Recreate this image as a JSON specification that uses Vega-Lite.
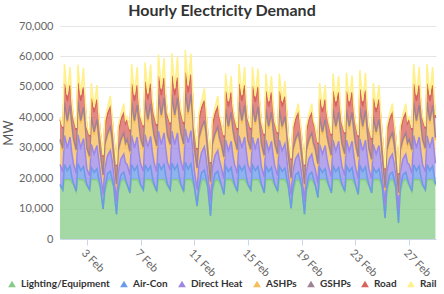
{
  "$schema": "https://vega.github.io/schema/vega-lite/v6.json",
  "width": 376,
  "height": 213,
  "padding": {"left": 2, "top": 3, "right": 8, "bottom": 4},
  "config": {"view": {"stroke": null}, "font": "Lato"},
  "title": {"text": "Hourly Electricity Demand", "fontSize": 16, "fontWeight": "bold", "color": "#333333", "font": "Lato", "offset": 1, "dx": -26},
  "datasets": {
    "series": [
      {"k": "L", "name": "Lighting/Equipment", "i": 0},
      {"k": "A", "name": "Air-Con", "i": 1},
      {"k": "D", "name": "Direct Heat", "i": 2},
      {"k": "H", "name": "ASHPs", "i": 3},
      {"k": "G", "name": "GSHPs", "i": 4},
      {"k": "R", "name": "Road", "i": 5},
      {"k": "W", "name": "Rail", "i": 6}
    ],
    "demand": [
      {"t":"2017-02-01T00:00","L":17500,"A":500,"D":6500,"H":7500,"G":800,"R":6500,"W":800},
      {"t":"2017-02-01T05:00","L":16000,"A":200,"D":5800,"H":7000,"G":800,"R":6500,"W":700},
      {"t":"2017-02-01T08:00","L":19500,"A":5000,"D":9500,"H":10000,"G":1000,"R":6000,"W":6500},
      {"t":"2017-02-01T13:00","L":19500,"A":3000,"D":7500,"H":8000,"G":900,"R":6500,"W":2000},
      {"t":"2017-02-01T18:00","L":19500,"A":4500,"D":9500,"H":9500,"G":1000,"R":6500,"W":6000},
      {"t":"2017-02-01T21:00","L":18500,"A":2000,"D":8000,"H":8500,"G":900,"R":6500,"W":1500},
      {"t":"2017-02-02T00:00","L":17800,"A":500,"D":6500,"H":7500,"G":800,"R":6500,"W":800},
      {"t":"2017-02-02T05:00","L":15500,"A":200,"D":5800,"H":7000,"G":800,"R":6500,"W":700},
      {"t":"2017-02-02T08:00","L":19800,"A":5000,"D":9500,"H":10000,"G":1000,"R":6000,"W":6000},
      {"t":"2017-02-02T13:00","L":19500,"A":3000,"D":7500,"H":8000,"G":900,"R":6500,"W":2000},
      {"t":"2017-02-02T18:00","L":19300,"A":4500,"D":9200,"H":9300,"G":1000,"R":6500,"W":6500},
      {"t":"2017-02-02T21:00","L":18500,"A":2000,"D":8000,"H":8500,"G":900,"R":6500,"W":1500},
      {"t":"2017-02-03T00:00","L":17500,"A":400,"D":5200,"H":6000,"G":800,"R":6500,"W":640},
      {"t":"2017-02-03T05:00","L":16000,"A":160,"D":4640,"H":5600,"G":800,"R":6500,"W":560},
      {"t":"2017-02-03T08:00","L":19500,"A":4000,"D":7600,"H":8000,"G":1000,"R":6000,"W":5200},
      {"t":"2017-02-03T13:00","L":19500,"A":2400,"D":6000,"H":6400,"G":900,"R":6500,"W":1600},
      {"t":"2017-02-03T18:00","L":19500,"A":3600,"D":7600,"H":7600,"G":1000,"R":6500,"W":4800},
      {"t":"2017-02-03T21:00","L":18500,"A":1600,"D":6400,"H":6800,"G":900,"R":6500,"W":1200},
      {"t":"2017-02-04T00:00","L":17000,"A":320,"D":4800,"H":5600,"G":800,"R":6500,"W":560},
      {"t":"2017-02-04T05:00","L":9700,"A":160,"D":4800,"H":5600,"G":800,"R":6000,"W":480},
      {"t":"2017-02-04T08:00","L":15000,"A":1600,"D":6400,"H":7200,"G":900,"R":6000,"W":2000},
      {"t":"2017-02-04T13:00","L":19000,"A":2400,"D":6000,"H":6400,"G":900,"R":6500,"W":2000},
      {"t":"2017-02-04T18:00","L":19500,"A":2800,"D":6800,"H":6800,"G":1000,"R":6500,"W":3600},
      {"t":"2017-02-04T21:00","L":18500,"A":1440,"D":6000,"H":6400,"G":900,"R":6500,"W":1200},
      {"t":"2017-02-05T00:00","L":17000,"A":280,"D":4200,"H":4900,"G":800,"R":6500,"W":490},
      {"t":"2017-02-05T05:00","L":8000,"A":140,"D":4200,"H":4900,"G":800,"R":6000,"W":420},
      {"t":"2017-02-05T08:00","L":15000,"A":1400,"D":5600,"H":6300,"G":900,"R":6000,"W":1750},
      {"t":"2017-02-05T13:00","L":19000,"A":2100,"D":5250,"H":5600,"G":900,"R":6500,"W":1750},
      {"t":"2017-02-05T18:00","L":19500,"A":2450,"D":5950,"H":5950,"G":1000,"R":6500,"W":3150},
      {"t":"2017-02-05T21:00","L":18500,"A":1260,"D":5250,"H":5600,"G":900,"R":6500,"W":1050},
      {"t":"2017-02-06T00:00","L":17500,"A":500,"D":6500,"H":7500,"G":800,"R":6500,"W":800},
      {"t":"2017-02-06T05:00","L":15000,"A":200,"D":5800,"H":7000,"G":800,"R":6500,"W":700},
      {"t":"2017-02-06T08:00","L":19500,"A":5000,"D":9500,"H":10000,"G":1000,"R":6000,"W":6500},
      {"t":"2017-02-06T13:00","L":19500,"A":3000,"D":7500,"H":8000,"G":900,"R":6500,"W":2000},
      {"t":"2017-02-06T18:00","L":19500,"A":4500,"D":9500,"H":9500,"G":1000,"R":6500,"W":6000},
      {"t":"2017-02-06T21:00","L":18500,"A":2000,"D":8000,"H":8500,"G":900,"R":6500,"W":1500},
      {"t":"2017-02-07T00:00","L":17500,"A":500,"D":6700,"H":7700,"G":800,"R":6500,"W":800},
      {"t":"2017-02-07T05:00","L":16000,"A":200,"D":6000,"H":7200,"G":800,"R":6500,"W":700},
      {"t":"2017-02-07T08:00","L":19500,"A":5000,"D":9800,"H":10300,"G":1000,"R":6000,"W":6500},
      {"t":"2017-02-07T13:00","L":19500,"A":3000,"D":7700,"H":8200,"G":900,"R":6500,"W":2000},
      {"t":"2017-02-07T18:00","L":19500,"A":4500,"D":9700,"H":9800,"G":1000,"R":6500,"W":6300},
      {"t":"2017-02-07T21:00","L":18500,"A":2000,"D":8200,"H":8700,"G":900,"R":6500,"W":1500},
      {"t":"2017-02-08T00:00","L":17500,"A":550,"D":7150,"H":8250,"G":800,"R":6500,"W":880},
      {"t":"2017-02-08T05:00","L":15500,"A":220,"D":6380,"H":7700,"G":800,"R":6500,"W":770},
      {"t":"2017-02-08T08:00","L":19500,"A":5500,"D":10450,"H":11000,"G":1000,"R":6000,"W":7150},
      {"t":"2017-02-08T13:00","L":19500,"A":3300,"D":8250,"H":8800,"G":900,"R":6500,"W":2200},
      {"t":"2017-02-08T18:00","L":19500,"A":4950,"D":10450,"H":10450,"G":1000,"R":6500,"W":6600},
      {"t":"2017-02-08T21:00","L":18500,"A":2200,"D":8800,"H":9350,"G":900,"R":6500,"W":1650},
      {"t":"2017-02-09T00:00","L":17500,"A":550,"D":7150,"H":8250,"G":800,"R":6500,"W":880},
      {"t":"2017-02-09T05:00","L":16000,"A":220,"D":6380,"H":7700,"G":800,"R":6500,"W":770},
      {"t":"2017-02-09T08:00","L":19500,"A":5500,"D":10450,"H":11000,"G":1000,"R":6200,"W":7400},
      {"t":"2017-02-09T13:00","L":19500,"A":3300,"D":8250,"H":8800,"G":900,"R":6500,"W":2200},
      {"t":"2017-02-09T18:00","L":19500,"A":4950,"D":10450,"H":10450,"G":1000,"R":6700,"W":6800},
      {"t":"2017-02-09T21:00","L":18500,"A":2200,"D":8800,"H":9350,"G":900,"R":6500,"W":1650},
      {"t":"2017-02-10T00:00","L":17500,"A":575,"D":7475,"H":8625,"G":800,"R":6500,"W":920},
      {"t":"2017-02-10T05:00","L":15500,"A":230,"D":6670,"H":8050,"G":800,"R":6500,"W":805},
      {"t":"2017-02-10T08:00","L":19500,"A":5750,"D":10925,"H":11500,"G":1000,"R":6000,"W":7475},
      {"t":"2017-02-10T13:00","L":19500,"A":3450,"D":8625,"H":9200,"G":900,"R":6500,"W":2300},
      {"t":"2017-02-10T18:00","L":19500,"A":5175,"D":10925,"H":10925,"G":1000,"R":6500,"W":6900},
      {"t":"2017-02-10T21:00","L":18500,"A":2300,"D":9200,"H":9775,"G":900,"R":6500,"W":1725},
      {"t":"2017-02-11T00:00","L":17000,"A":360,"D":5400,"H":6300,"G":800,"R":6500,"W":630},
      {"t":"2017-02-11T05:00","L":10700,"A":180,"D":5400,"H":6300,"G":800,"R":6000,"W":540},
      {"t":"2017-02-11T08:00","L":15000,"A":1800,"D":7200,"H":8100,"G":900,"R":6000,"W":2250},
      {"t":"2017-02-11T13:00","L":19000,"A":2700,"D":6750,"H":7200,"G":900,"R":6500,"W":2250},
      {"t":"2017-02-11T18:00","L":19500,"A":3150,"D":7650,"H":7650,"G":1000,"R":6500,"W":4050},
      {"t":"2017-02-11T21:00","L":18500,"A":1620,"D":6750,"H":7200,"G":900,"R":6500,"W":1350},
      {"t":"2017-02-12T00:00","L":17000,"A":320,"D":4800,"H":5600,"G":800,"R":6500,"W":560},
      {"t":"2017-02-12T05:00","L":7500,"A":160,"D":4800,"H":5600,"G":800,"R":6000,"W":480},
      {"t":"2017-02-12T08:00","L":15000,"A":1600,"D":6400,"H":7200,"G":900,"R":6000,"W":2000},
      {"t":"2017-02-12T13:00","L":19000,"A":2400,"D":6000,"H":6400,"G":900,"R":6500,"W":2000},
      {"t":"2017-02-12T18:00","L":19500,"A":2800,"D":6800,"H":6800,"G":1000,"R":6500,"W":3600},
      {"t":"2017-02-12T21:00","L":18500,"A":1440,"D":6000,"H":6400,"G":900,"R":6500,"W":1200},
      {"t":"2017-02-13T00:00","L":17500,"A":450,"D":5850,"H":6750,"G":800,"R":6500,"W":720},
      {"t":"2017-02-13T05:00","L":14500,"A":180,"D":5220,"H":6300,"G":800,"R":6500,"W":630},
      {"t":"2017-02-13T08:00","L":19500,"A":4500,"D":8550,"H":9000,"G":1000,"R":6000,"W":5850},
      {"t":"2017-02-13T13:00","L":19500,"A":2700,"D":6750,"H":7200,"G":900,"R":6500,"W":1800},
      {"t":"2017-02-13T18:00","L":19500,"A":4050,"D":8550,"H":8550,"G":1000,"R":6500,"W":5400},
      {"t":"2017-02-13T21:00","L":18500,"A":1800,"D":7200,"H":7650,"G":900,"R":6500,"W":1350},
      {"t":"2017-02-14T00:00","L":17500,"A":500,"D":6500,"H":7500,"G":800,"R":6500,"W":800},
      {"t":"2017-02-14T05:00","L":15500,"A":200,"D":5800,"H":7000,"G":800,"R":6500,"W":700},
      {"t":"2017-02-14T08:00","L":19500,"A":5000,"D":9500,"H":10000,"G":1000,"R":6000,"W":6500},
      {"t":"2017-02-14T13:00","L":19500,"A":3000,"D":7500,"H":8000,"G":900,"R":6500,"W":2000},
      {"t":"2017-02-14T18:00","L":19500,"A":4500,"D":9500,"H":9500,"G":1000,"R":6500,"W":6000},
      {"t":"2017-02-14T21:00","L":18500,"A":2000,"D":8000,"H":8500,"G":900,"R":6500,"W":1500},
      {"t":"2017-02-15T00:00","L":17500,"A":500,"D":6300,"H":7300,"G":800,"R":6500,"W":800},
      {"t":"2017-02-15T05:00","L":16000,"A":200,"D":5600,"H":6800,"G":800,"R":6500,"W":700},
      {"t":"2017-02-15T08:00","L":19500,"A":4800,"D":9200,"H":9700,"G":1000,"R":6000,"W":6300},
      {"t":"2017-02-15T13:00","L":19500,"A":3000,"D":7300,"H":7800,"G":900,"R":6500,"W":2000},
      {"t":"2017-02-15T18:00","L":19500,"A":4400,"D":9300,"H":9300,"G":1000,"R":6500,"W":6000},
      {"t":"2017-02-15T21:00","L":18500,"A":2000,"D":7800,"H":8300,"G":900,"R":6500,"W":1500},
      {"t":"2017-02-16T00:00","L":17500,"A":450,"D":5850,"H":6750,"G":800,"R":6500,"W":720},
      {"t":"2017-02-16T05:00","L":15000,"A":180,"D":5220,"H":6300,"G":800,"R":6500,"W":630},
      {"t":"2017-02-16T08:00","L":19500,"A":4500,"D":8550,"H":9000,"G":1000,"R":6000,"W":5850},
      {"t":"2017-02-16T13:00","L":19500,"A":2700,"D":6750,"H":7200,"G":900,"R":6500,"W":1800},
      {"t":"2017-02-16T18:00","L":19500,"A":4050,"D":8550,"H":8550,"G":1000,"R":6500,"W":5400},
      {"t":"2017-02-16T21:00","L":18500,"A":1800,"D":7200,"H":7650,"G":900,"R":6500,"W":1350},
      {"t":"2017-02-17T00:00","L":17500,"A":450,"D":5850,"H":6750,"G":800,"R":6500,"W":720},
      {"t":"2017-02-17T05:00","L":15500,"A":180,"D":5220,"H":6300,"G":800,"R":6500,"W":630},
      {"t":"2017-02-17T08:00","L":19500,"A":4500,"D":8550,"H":9000,"G":1000,"R":6000,"W":5850},
      {"t":"2017-02-17T13:00","L":19500,"A":2700,"D":6750,"H":7200,"G":900,"R":6500,"W":1800},
      {"t":"2017-02-17T18:00","L":19500,"A":3800,"D":8000,"H":8000,"G":1000,"R":6500,"W":5000},
      {"t":"2017-02-17T21:00","L":18500,"A":1700,"D":7000,"H":7400,"G":900,"R":6500,"W":1300},
      {"t":"2017-02-18T00:00","L":17000,"A":280,"D":4200,"H":4900,"G":800,"R":6500,"W":490},
      {"t":"2017-02-18T05:00","L":10000,"A":140,"D":4200,"H":4900,"G":800,"R":6000,"W":420},
      {"t":"2017-02-18T08:00","L":15000,"A":1400,"D":5600,"H":6300,"G":900,"R":6000,"W":1750},
      {"t":"2017-02-18T13:00","L":19000,"A":2100,"D":5250,"H":5600,"G":900,"R":6500,"W":1750},
      {"t":"2017-02-18T18:00","L":19500,"A":2450,"D":5950,"H":5950,"G":1000,"R":6500,"W":3150},
      {"t":"2017-02-18T21:00","L":18500,"A":1260,"D":5250,"H":5600,"G":900,"R":6500,"W":1050},
      {"t":"2017-02-19T00:00","L":17000,"A":280,"D":4200,"H":4900,"G":800,"R":6500,"W":490},
      {"t":"2017-02-19T05:00","L":8000,"A":140,"D":4200,"H":4900,"G":800,"R":6000,"W":420},
      {"t":"2017-02-19T08:00","L":15000,"A":1400,"D":5600,"H":6300,"G":900,"R":6000,"W":1750},
      {"t":"2017-02-19T13:00","L":19000,"A":2100,"D":5250,"H":5600,"G":900,"R":6500,"W":1750},
      {"t":"2017-02-19T18:00","L":19500,"A":2450,"D":5950,"H":5950,"G":1000,"R":6500,"W":3150},
      {"t":"2017-02-19T21:00","L":18500,"A":1260,"D":5250,"H":5600,"G":900,"R":6500,"W":1050},
      {"t":"2017-02-20T00:00","L":17500,"A":400,"D":5200,"H":6000,"G":800,"R":6500,"W":640},
      {"t":"2017-02-20T05:00","L":13500,"A":160,"D":4640,"H":5600,"G":800,"R":6500,"W":560},
      {"t":"2017-02-20T08:00","L":19500,"A":4000,"D":7600,"H":8000,"G":1000,"R":6000,"W":5200},
      {"t":"2017-02-20T13:00","L":19500,"A":2400,"D":6000,"H":6400,"G":900,"R":6500,"W":1600},
      {"t":"2017-02-20T18:00","L":19500,"A":3600,"D":7600,"H":7600,"G":1000,"R":6500,"W":4800},
      {"t":"2017-02-20T21:00","L":18500,"A":1600,"D":6400,"H":6800,"G":900,"R":6500,"W":1200},
      {"t":"2017-02-21T00:00","L":17500,"A":450,"D":5850,"H":6750,"G":800,"R":6500,"W":720},
      {"t":"2017-02-21T05:00","L":15000,"A":180,"D":5220,"H":6300,"G":800,"R":6500,"W":630},
      {"t":"2017-02-21T08:00","L":19500,"A":4500,"D":8550,"H":9000,"G":1000,"R":6000,"W":5850},
      {"t":"2017-02-21T13:00","L":19500,"A":2700,"D":6750,"H":7200,"G":900,"R":6500,"W":1800},
      {"t":"2017-02-21T18:00","L":19500,"A":4050,"D":8550,"H":8550,"G":1000,"R":6500,"W":5400},
      {"t":"2017-02-21T21:00","L":18500,"A":1800,"D":7200,"H":7650,"G":900,"R":6500,"W":1350},
      {"t":"2017-02-22T00:00","L":17500,"A":450,"D":5850,"H":6750,"G":800,"R":6500,"W":720},
      {"t":"2017-02-22T05:00","L":15500,"A":180,"D":5220,"H":6300,"G":800,"R":6500,"W":630},
      {"t":"2017-02-22T08:00","L":19500,"A":4500,"D":8550,"H":9000,"G":1000,"R":6000,"W":6100},
      {"t":"2017-02-22T13:00","L":19500,"A":2700,"D":6750,"H":7200,"G":900,"R":6500,"W":1800},
      {"t":"2017-02-22T18:00","L":19500,"A":4050,"D":8550,"H":8550,"G":1000,"R":6500,"W":5600},
      {"t":"2017-02-22T21:00","L":18500,"A":1800,"D":7200,"H":7650,"G":900,"R":6500,"W":1350},
      {"t":"2017-02-23T00:00","L":17500,"A":450,"D":5850,"H":6750,"G":800,"R":6500,"W":720},
      {"t":"2017-02-23T05:00","L":14500,"A":180,"D":5220,"H":6300,"G":800,"R":6500,"W":630},
      {"t":"2017-02-23T08:00","L":19500,"A":4600,"D":8800,"H":9300,"G":1000,"R":6000,"W":6200},
      {"t":"2017-02-23T13:00","L":19500,"A":2700,"D":6750,"H":7200,"G":900,"R":6500,"W":1800},
      {"t":"2017-02-23T18:00","L":19500,"A":4200,"D":8800,"H":8800,"G":1000,"R":6500,"W":5800},
      {"t":"2017-02-23T21:00","L":18500,"A":1800,"D":7200,"H":7650,"G":900,"R":6500,"W":1350},
      {"t":"2017-02-24T00:00","L":17500,"A":400,"D":5200,"H":6000,"G":800,"R":6500,"W":640},
      {"t":"2017-02-24T05:00","L":15000,"A":160,"D":4640,"H":5600,"G":800,"R":6500,"W":560},
      {"t":"2017-02-24T08:00","L":19500,"A":4000,"D":7600,"H":8000,"G":1000,"R":6000,"W":5200},
      {"t":"2017-02-24T13:00","L":19500,"A":2400,"D":6000,"H":6400,"G":900,"R":6500,"W":1600},
      {"t":"2017-02-24T18:00","L":19500,"A":3600,"D":7600,"H":7600,"G":1000,"R":6500,"W":4800},
      {"t":"2017-02-24T21:00","L":18500,"A":1600,"D":6400,"H":6800,"G":900,"R":6500,"W":1200},
      {"t":"2017-02-25T00:00","L":17000,"A":280,"D":4200,"H":4900,"G":800,"R":6500,"W":490},
      {"t":"2017-02-25T05:00","L":6800,"A":140,"D":4200,"H":4900,"G":800,"R":6000,"W":420},
      {"t":"2017-02-25T08:00","L":15000,"A":1400,"D":5600,"H":6300,"G":900,"R":6000,"W":1750},
      {"t":"2017-02-25T13:00","L":19000,"A":2100,"D":5250,"H":5600,"G":900,"R":6500,"W":1750},
      {"t":"2017-02-25T18:00","L":19500,"A":2450,"D":5950,"H":5950,"G":1000,"R":6500,"W":3150},
      {"t":"2017-02-25T21:00","L":18500,"A":1260,"D":5250,"H":5600,"G":900,"R":6500,"W":1050},
      {"t":"2017-02-26T00:00","L":17000,"A":280,"D":4200,"H":4900,"G":800,"R":6500,"W":490},
      {"t":"2017-02-26T05:00","L":5200,"A":140,"D":4200,"H":4900,"G":800,"R":6000,"W":420},
      {"t":"2017-02-26T08:00","L":15000,"A":1400,"D":5600,"H":6300,"G":900,"R":6000,"W":1750},
      {"t":"2017-02-26T13:00","L":19000,"A":2100,"D":5250,"H":5600,"G":900,"R":6500,"W":1750},
      {"t":"2017-02-26T18:00","L":19500,"A":2450,"D":5950,"H":5950,"G":1000,"R":6500,"W":3150},
      {"t":"2017-02-26T21:00","L":18500,"A":1260,"D":5250,"H":5600,"G":900,"R":6500,"W":1050},
      {"t":"2017-02-27T00:00","L":17500,"A":500,"D":6500,"H":7500,"G":800,"R":6500,"W":800},
      {"t":"2017-02-27T05:00","L":15500,"A":200,"D":5800,"H":7000,"G":800,"R":6500,"W":700},
      {"t":"2017-02-27T08:00","L":19500,"A":5000,"D":9500,"H":10000,"G":1000,"R":6000,"W":6500},
      {"t":"2017-02-27T13:00","L":19500,"A":3000,"D":7500,"H":8000,"G":900,"R":6500,"W":2000},
      {"t":"2017-02-27T18:00","L":19500,"A":4500,"D":9500,"H":9500,"G":1000,"R":6500,"W":6000},
      {"t":"2017-02-27T21:00","L":18500,"A":2000,"D":8000,"H":8500,"G":900,"R":6500,"W":1500},
      {"t":"2017-02-28T00:00","L":17500,"A":500,"D":6500,"H":7500,"G":800,"R":6500,"W":800},
      {"t":"2017-02-28T05:00","L":16000,"A":200,"D":5800,"H":7000,"G":800,"R":6500,"W":700},
      {"t":"2017-02-28T08:00","L":19500,"A":5000,"D":9500,"H":10000,"G":1000,"R":6000,"W":6500},
      {"t":"2017-02-28T13:00","L":19500,"A":3000,"D":7500,"H":8000,"G":900,"R":6500,"W":2000},
      {"t":"2017-02-28T18:00","L":19500,"A":4500,"D":9500,"H":9500,"G":1000,"R":6500,"W":6000},
      {"t":"2017-02-28T21:00","L":18500,"A":2000,"D":8000,"H":8500,"G":900,"R":6500,"W":1500},
      {"t":"2017-02-28T23:00","L":17500,"A":600,"D":6800,"H":7600,"G":800,"R":6500,"W":900}
    ]
  },
  "data": {"name": "demand"},
  "transform": [
    {"fold": ["L", "A", "D", "H", "G", "R", "W"], "as": ["k", "MW"]},
    {"lookup": "k", "from": {"data": {"name": "series"}, "key": "k", "fields": ["name", "i"]}}
  ],
  "mark": {"type": "area", "fillOpacity": 0.75, "line": {"strokeWidth": 1.5}},
  "encoding": {
    "x": {
      "field": "t",
      "type": "temporal",
      "scale": {"domain": [{"year": 2017, "month": 2, "date": 1}, {"year": 2017, "month": 3, "date": 1}]},
      "axis": {
        "values": [
          {"year": 2017, "month": 2, "date": 3},
          {"year": 2017, "month": 2, "date": 7},
          {"year": 2017, "month": 2, "date": 11},
          {"year": 2017, "month": 2, "date": 15},
          {"year": 2017, "month": 2, "date": 19},
          {"year": 2017, "month": 2, "date": 23},
          {"year": 2017, "month": 2, "date": 27}
        ],
        "format": "%-d %b",
        "title": null,
        "grid": false,
        "labelAngle": 45,
        "labelAlign": "left",
        "labelBaseline": "top",
        "labelFontSize": 11,
        "labelColor": "#666666",
        "labelPadding": 2,
        "domainColor": "#ccd6eb",
        "tickColor": "#ccd6eb",
        "tickSize": 6
      }
    },
    "y": {
      "field": "MW",
      "type": "quantitative",
      "stack": "zero",
      "scale": {"domain": [0, 70000]},
      "axis": {
        "values": [0, 10000, 20000, 30000, 40000, 50000, 60000, 70000],
        "format": ",.0f",
        "title": "MW",
        "titleFontSize": 13,
        "titleFontWeight": "normal",
        "titleColor": "#555555",
        "titlePadding": 3,
        "labelFontSize": 11,
        "labelColor": "#666666",
        "labelPadding": 7,
        "gridColor": "#e6e6e6",
        "domain": false,
        "ticks": false
      }
    },
    "color": {
      "field": "name",
      "type": "nominal",
      "sort": ["Lighting/Equipment", "Air-Con", "Direct Heat", "ASHPs", "GSHPs", "Road", "Rail"],
      "scale": {
        "domain": ["Lighting/Equipment", "Air-Con", "Direct Heat", "ASHPs", "GSHPs", "Road", "Rail"],
        "range": ["#86cc88", "#6a9ae8", "#9c87e6", "#f7bd55", "#a08296", "#d8625c", "#fff08a"]
      },
      "legend": {
        "title": null,
        "orient": "none",
        "direction": "horizontal",
        "legendX": -53,
        "legendY": 253,
        "symbolType": "triangle-up",
        "symbolSize": 60,
        "symbolStrokeWidth": 0,
        "labelFontSize": 10,
        "labelFontWeight": "bold",
        "labelColor": "#333333",
        "labelOffset": 4,
        "columnPadding": 9
      }
    },
    "order": {"field": "i", "type": "quantitative"}
  }
}
